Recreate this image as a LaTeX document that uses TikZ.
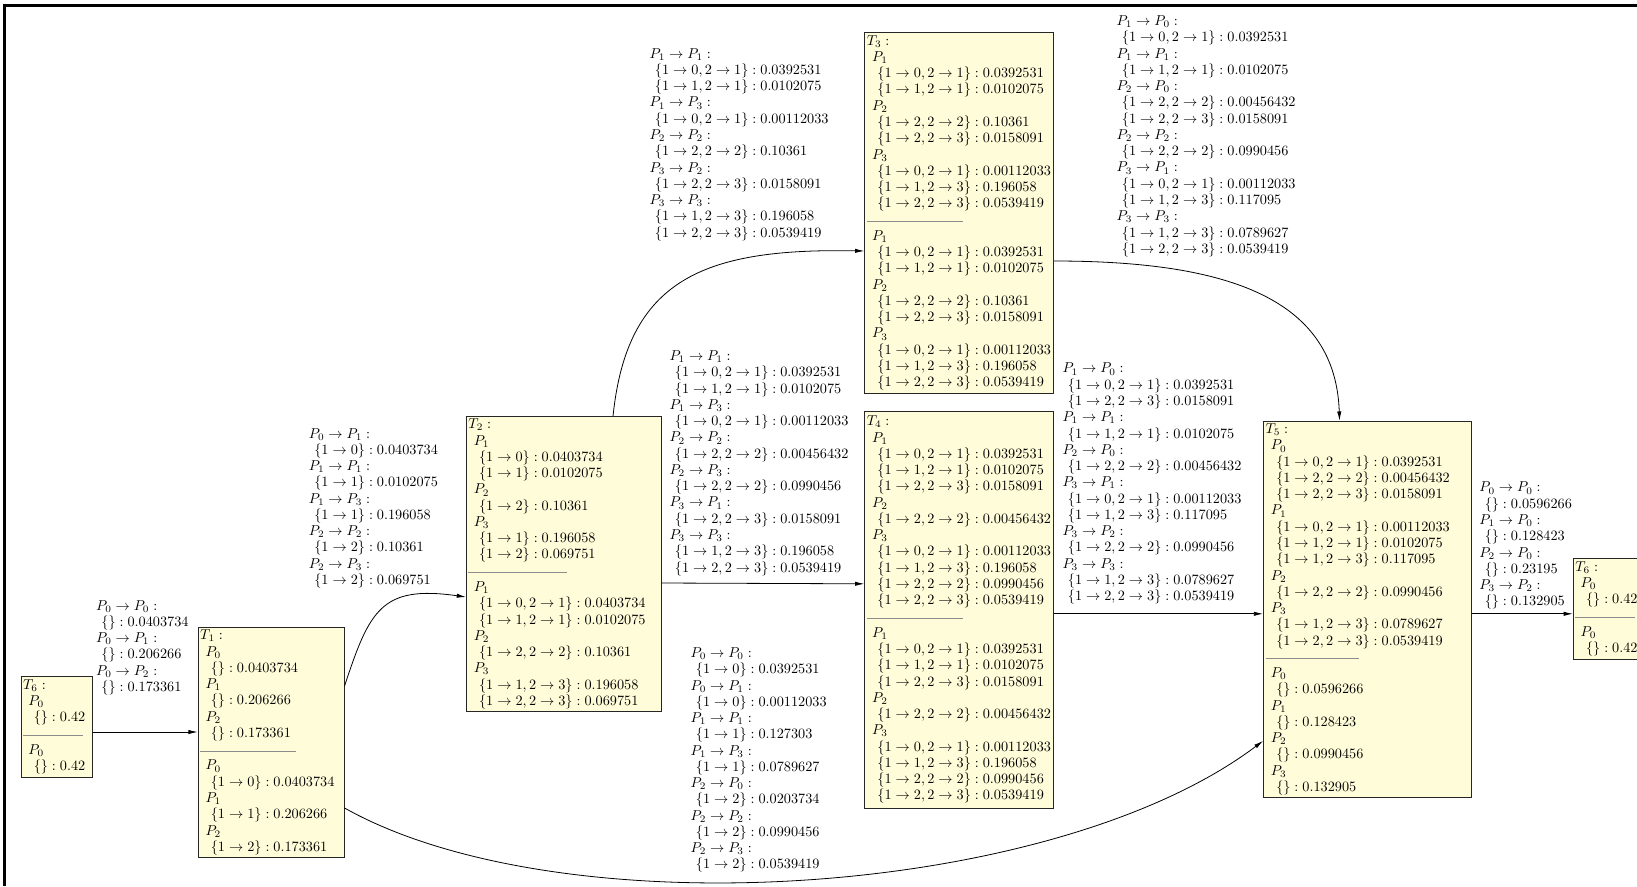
\RequirePackage{fix-cm}
\documentclass[tikz,border=0pt]{standalone}
\usepackage{xcolor}
\usepackage{amsmath}
\usepackage{amssymb}
\usepackage{tikz}
\usetikzlibrary{arrows.meta,positioning,calc}

% helpers for the table texts
\newcommand{\trans}[2]{$P_{#1} \rightarrow P_{#2} :$}
\newcommand{\lval}[2]{\hspace*{4pt}$\{#1\} : #2$}
\newcommand{\bproc}[1]{\hspace*{4pt}$P_{#1}$}
\newcommand{\bval}[2]{\hspace*{8pt}$\{#1\} : #2$}
\newcommand{\sepline}[1]{\textcolor{black!45}{\rule[1.7pt]{#1}{0.5pt}}}

\begin{document}
\begin{tikzpicture}[
        x=0.75pt, y=-0.75pt,
        box/.style={rectangle, draw=black!85, fill=yellow!15, line width=0.6pt, align=left, inner xsep=1.5pt, inner ysep=2pt, font=\fontsize{10.7pt}{12.2pt}\selectfont},
        arrow/.style={-{Latex[length=7pt,width=3.2pt]}, line width=0.6pt},
        elabel/.style={align=left, inner sep=0pt, font=\fontsize{10.7pt}{12.2pt}\selectfont}
    ]
    \useasboundingbox (0,0) rectangle (1637,886);
    \clip (0,0) rectangle (1637,886);

    % page frame
    \draw[line width=1.9pt] (4.5,886) -- (4.5,5.5) -- (1637,5.5);

    % start state
    \node[box, text width=50.7pt, minimum height=75.75pt, anchor=north west] (t6a) at (20.7,676) {%
        $T_6 :$\\ \bproc{0}\\ \bval{}{0.42}\\ \sepline{45pt}\\ \bproc{0}\\ \bval{}{0.42}};

    \node[box, text width=106.5pt, minimum height=171pt, right=78.5pt of t6a.north east, anchor=north west, yshift=36.75pt] (t1) {%
        $T_1 :$\\ \bproc{0}\\ \bval{}{0.0403734}\\ \bproc{1}\\ \bval{}{0.206266}\\ \bproc{2}\\ \bval{}{0.173361}\\
        \sepline{72pt}\\
        \bproc{0}\\ \bval{1 \rightarrow 0}{0.0403734}\\ \bproc{1}\\ \bval{1 \rightarrow 1}{0.206266}\\ \bproc{2}\\ \bval{1 \rightarrow 2}{0.173361}};

    \node[box, text width=142.9pt, minimum height=220.5pt, right=91.1pt of t1.north east, anchor=north west, yshift=158.25pt] (t2) {%
        $T_2 :$\\ \bproc{1}\\ \bval{1 \rightarrow 0}{0.0403734}\\ \bval{1 \rightarrow 1}{0.0102075}\\
        \bproc{2}\\ \bval{1 \rightarrow 2}{0.10361}\\
        \bproc{3}\\ \bval{1 \rightarrow 1}{0.196058}\\ \bval{1 \rightarrow 2}{0.069751}\\
        \sepline{74pt}\\
        \bproc{1}\\ \bval{1 \rightarrow 0, 2 \rightarrow 1}{0.0403734}\\ \bval{1 \rightarrow 1, 2 \rightarrow 1}{0.0102075}\\
        \bproc{2}\\ \bval{1 \rightarrow 2, 2 \rightarrow 2}{0.10361}\\
        \bproc{3}\\ \bval{1 \rightarrow 1, 2 \rightarrow 3}{0.196058}\\ \bval{1 \rightarrow 2, 2 \rightarrow 3}{0.069751}};

    % middle column
    \node[box, text width=138.75pt, minimum height=270.75pt, right=152.25pt of t2.north east, anchor=north west, yshift=288pt] (t3) {%
        $T_3 :$\\ \bproc{1}\\ \bval{1 \rightarrow 0, 2 \rightarrow 1}{0.0392531}\\ \bval{1 \rightarrow 1, 2 \rightarrow 1}{0.0102075}\\
        \bproc{2}\\ \bval{1 \rightarrow 2, 2 \rightarrow 2}{0.10361}\\ \bval{1 \rightarrow 2, 2 \rightarrow 3}{0.0158091}\\
        \bproc{3}\\ \bval{1 \rightarrow 0, 2 \rightarrow 1}{0.00112033}\\ \bval{1 \rightarrow 1, 2 \rightarrow 3}{0.196058}\\ \bval{1 \rightarrow 2, 2 \rightarrow 3}{0.0539419}\\
        \sepline{72pt}\\
        \bproc{1}\\ \bval{1 \rightarrow 0, 2 \rightarrow 1}{0.0392531}\\ \bval{1 \rightarrow 1, 2 \rightarrow 1}{0.0102075}\\
        \bproc{2}\\ \bval{1 \rightarrow 2, 2 \rightarrow 2}{0.10361}\\ \bval{1 \rightarrow 2, 2 \rightarrow 3}{0.0158091}\\
        \bproc{3}\\ \bval{1 \rightarrow 0, 2 \rightarrow 1}{0.00112033}\\ \bval{1 \rightarrow 1, 2 \rightarrow 3}{0.196058}\\ \bval{1 \rightarrow 2, 2 \rightarrow 3}{0.0539419}};

    \node[box, text width=138.75pt, minimum height=297.75pt, below=12.75pt of t3.south west, anchor=north west] (t4) {%
        $T_4 :$\\ \bproc{1}\\ \bval{1 \rightarrow 0, 2 \rightarrow 1}{0.0392531}\\ \bval{1 \rightarrow 1, 2 \rightarrow 1}{0.0102075}\\ \bval{1 \rightarrow 2, 2 \rightarrow 3}{0.0158091}\\
        \bproc{2}\\ \bval{1 \rightarrow 2, 2 \rightarrow 2}{0.00456432}\\
        \bproc{3}\\ \bval{1 \rightarrow 0, 2 \rightarrow 1}{0.00112033}\\ \bval{1 \rightarrow 1, 2 \rightarrow 3}{0.196058}\\ \bval{1 \rightarrow 2, 2 \rightarrow 2}{0.0990456}\\ \bval{1 \rightarrow 2, 2 \rightarrow 3}{0.0539419}\\
        \sepline{72pt}\\
        \bproc{1}\\ \bval{1 \rightarrow 0, 2 \rightarrow 1}{0.0392531}\\ \bval{1 \rightarrow 1, 2 \rightarrow 1}{0.0102075}\\ \bval{1 \rightarrow 2, 2 \rightarrow 3}{0.0158091}\\
        \bproc{2}\\ \bval{1 \rightarrow 2, 2 \rightarrow 2}{0.00456432}\\
        \bproc{3}\\ \bval{1 \rightarrow 0, 2 \rightarrow 1}{0.00112033}\\ \bval{1 \rightarrow 1, 2 \rightarrow 3}{0.196058}\\ \bval{1 \rightarrow 2, 2 \rightarrow 2}{0.0990456}\\ \bval{1 \rightarrow 2, 2 \rightarrow 3}{0.0539419}};

    % right column
    \node[box, text width=153pt, minimum height=281.25pt, right=156.75pt of t4.north east, anchor=north west, yshift=-7.5pt] (t5) {%
        $T_5 :$\\ \bproc{0}\\ \bval{1 \rightarrow 0, 2 \rightarrow 1}{0.0392531}\\ \bval{1 \rightarrow 2, 2 \rightarrow 2}{0.00456432}\\ \bval{1 \rightarrow 2, 2 \rightarrow 3}{0.0158091}\\
        \bproc{1}\\ \bval{1 \rightarrow 0, 2 \rightarrow 1}{0.00112033}\\ \bval{1 \rightarrow 1, 2 \rightarrow 1}{0.0102075}\\ \bval{1 \rightarrow 1, 2 \rightarrow 3}{0.117095}\\
        \bproc{2}\\ \bval{1 \rightarrow 2, 2 \rightarrow 2}{0.0990456}\\
        \bproc{3}\\ \bval{1 \rightarrow 1, 2 \rightarrow 3}{0.0789627}\\ \bval{1 \rightarrow 2, 2 \rightarrow 3}{0.0539419}\\
        \sepline{70pt}\\
        \bproc{0}\\ \bval{}{0.0596266}\\ \bproc{1}\\ \bval{}{0.128423}\\ \bproc{2}\\ \bval{}{0.0990456}\\ \bproc{3}\\ \bval{}{0.132905}};

    \node[box, text width=50.7pt, minimum height=75.75pt, right=75.75pt of t5.north east, anchor=north west, yshift=-102.75pt] (t6b) {%
        $T_6 :$\\ \bproc{0}\\ \bval{}{0.42}\\ \sepline{45pt}\\ \bproc{0}\\ \bval{}{0.42}};

    % transitions with their tables
    \draw[arrow] ([yshift=-42pt]t6a.north east) -- node[elabel, midway, anchor=north west, xshift=-37.3pt, yshift=99pt] (l61) {%
        \trans{0}{0}\\ \lval{}{0.0403734}\\ \trans{0}{1}\\ \lval{}{0.206266}\\ \trans{0}{2}\\ \lval{}{0.173361}} ([yshift=-78.75pt]t1.north west);

    \draw[arrow] ([yshift=-44.25pt]t1.north east) to[out=71.8, in=171.9, out distance=60pt, in distance=64pt]
        node[elabel, midway, anchor=north west, xshift=-55.8pt, yshift=135.4pt] (l12) {%
        \trans{0}{1}\\ \lval{1 \rightarrow 0}{0.0403734}\\ \trans{1}{1}\\ \lval{1 \rightarrow 1}{0.0102075}\\
        \trans{1}{3}\\ \lval{1 \rightarrow 1}{0.196058}\\ \trans{2}{2}\\ \lval{1 \rightarrow 2}{0.10361}\\
        \trans{2}{3}\\ \lval{1 \rightarrow 2}{0.069751}} ([yshift=-135.75pt]t2.north west);

    \draw[arrow] ([xshift=37pt]t2.north) to[out=84.1, in=178.9, out distance=102.5pt, in distance=121.5pt]
        node[elabel, midway, anchor=north west, xshift=-25.5pt, yshift=175pt] (l23) {%
        \trans{1}{1}\\ \lval{1 \rightarrow 0, 2 \rightarrow 1}{0.0392531}\\ \lval{1 \rightarrow 1, 2 \rightarrow 1}{0.0102075}\\
        \trans{1}{3}\\ \lval{1 \rightarrow 0, 2 \rightarrow 1}{0.00112033}\\
        \trans{2}{2}\\ \lval{1 \rightarrow 2, 2 \rightarrow 2}{0.10361}\\
        \trans{3}{2}\\ \lval{1 \rightarrow 2, 2 \rightarrow 3}{0.0158091}\\
        \trans{3}{3}\\ \lval{1 \rightarrow 1, 2 \rightarrow 3}{0.196058}\\ \lval{1 \rightarrow 2, 2 \rightarrow 3}{0.0539419}} ([yshift=-164.25pt]t3.north west);

    \draw[arrow] ([yshift=-125.25pt]t2.north east) -- node[elabel, midway, anchor=north west, xshift=-70.3pt, yshift=174.75pt] (l24) {%
        \trans{1}{1}\\ \lval{1 \rightarrow 0, 2 \rightarrow 1}{0.0392531}\\ \lval{1 \rightarrow 1, 2 \rightarrow 1}{0.0102075}\\
        \trans{1}{3}\\ \lval{1 \rightarrow 0, 2 \rightarrow 1}{0.00112033}\\
        \trans{2}{2}\\ \lval{1 \rightarrow 2, 2 \rightarrow 2}{0.00456432}\\
        \trans{2}{3}\\ \lval{1 \rightarrow 2, 2 \rightarrow 2}{0.0990456}\\
        \trans{3}{1}\\ \lval{1 \rightarrow 2, 2 \rightarrow 3}{0.0158091}\\
        \trans{3}{3}\\ \lval{1 \rightarrow 1, 2 \rightarrow 3}{0.196058}\\ \lval{1 \rightarrow 2, 2 \rightarrow 3}{0.0539419}} ([yshift=-129.75pt]t4.north west);

    \draw[arrow] ([yshift=-135.75pt]t1.north east) to[out=-29.3, in=217, out distance=186.7pt, in distance=197pt]
        node[elabel, midway, anchor=north west, xshift=-87.3pt, yshift=174pt] (l15) {%
        \trans{0}{0}\\ \lval{1 \rightarrow 0}{0.0392531}\\ \trans{0}{1}\\ \lval{1 \rightarrow 0}{0.00112033}\\
        \trans{1}{1}\\ \lval{1 \rightarrow 1}{0.127303}\\ \trans{1}{3}\\ \lval{1 \rightarrow 1}{0.0789627}\\
        \trans{2}{0}\\ \lval{1 \rightarrow 2}{0.0203734}\\ \trans{2}{2}\\ \lval{1 \rightarrow 2}{0.0990456}\\
        \trans{2}{3}\\ \lval{1 \rightarrow 2}{0.0539419}} ([yshift=-240pt]t5.north west);

    \draw[arrow] ([yshift=-171.75pt]t3.north east) to[out=0, in=91.9, out distance=134pt, in distance=90pt]
        node[elabel, midway, anchor=north west, xshift=-109.6pt, yshift=210.4pt] (l35) {%
        \trans{1}{0}\\ \lval{1 \rightarrow 0, 2 \rightarrow 1}{0.0392531}\\
        \trans{1}{1}\\ \lval{1 \rightarrow 1, 2 \rightarrow 1}{0.0102075}\\
        \trans{2}{0}\\ \lval{1 \rightarrow 2, 2 \rightarrow 2}{0.00456432}\\ \lval{1 \rightarrow 2, 2 \rightarrow 3}{0.0158091}\\
        \trans{2}{2}\\ \lval{1 \rightarrow 2, 2 \rightarrow 2}{0.0990456}\\
        \trans{3}{1}\\ \lval{1 \rightarrow 0, 2 \rightarrow 1}{0.00112033}\\ \lval{1 \rightarrow 1, 2 \rightarrow 3}{0.117095}\\
        \trans{3}{3}\\ \lval{1 \rightarrow 1, 2 \rightarrow 3}{0.0789627}\\ \lval{1 \rightarrow 2, 2 \rightarrow 3}{0.0539419}} ([xshift=-21pt]t5.north);

    \draw[arrow] ([yshift=-152.25pt]t4.north east) -- node[elabel, midway, anchor=north west, xshift=-72.4pt, yshift=188.25pt] (l45) {%
        \trans{1}{0}\\ \lval{1 \rightarrow 0, 2 \rightarrow 1}{0.0392531}\\ \lval{1 \rightarrow 2, 2 \rightarrow 3}{0.0158091}\\
        \trans{1}{1}\\ \lval{1 \rightarrow 1, 2 \rightarrow 1}{0.0102075}\\
        \trans{2}{0}\\ \lval{1 \rightarrow 2, 2 \rightarrow 2}{0.00456432}\\
        \trans{3}{1}\\ \lval{1 \rightarrow 0, 2 \rightarrow 1}{0.00112033}\\ \lval{1 \rightarrow 1, 2 \rightarrow 3}{0.117095}\\
        \trans{3}{2}\\ \lval{1 \rightarrow 2, 2 \rightarrow 2}{0.0990456}\\
        \trans{3}{3}\\ \lval{1 \rightarrow 1, 2 \rightarrow 3}{0.0789627}\\ \lval{1 \rightarrow 2, 2 \rightarrow 3}{0.0539419}} ([yshift=-144.75pt]t5.north west);

    \draw[arrow] ([yshift=-144.75pt]t5.north east) -- node[elabel, midway, anchor=north west, xshift=-32.6pt, yshift=99pt] (l56) {%
        \trans{0}{0}\\ \lval{}{0.0596266}\\ \trans{1}{0}\\ \lval{}{0.128423}\\
        \trans{2}{0}\\ \lval{}{0.23195}\\ \trans{3}{2}\\ \lval{}{0.132905}} ([yshift=-42pt]t6b.north west);

\end{tikzpicture}
\end{document}
